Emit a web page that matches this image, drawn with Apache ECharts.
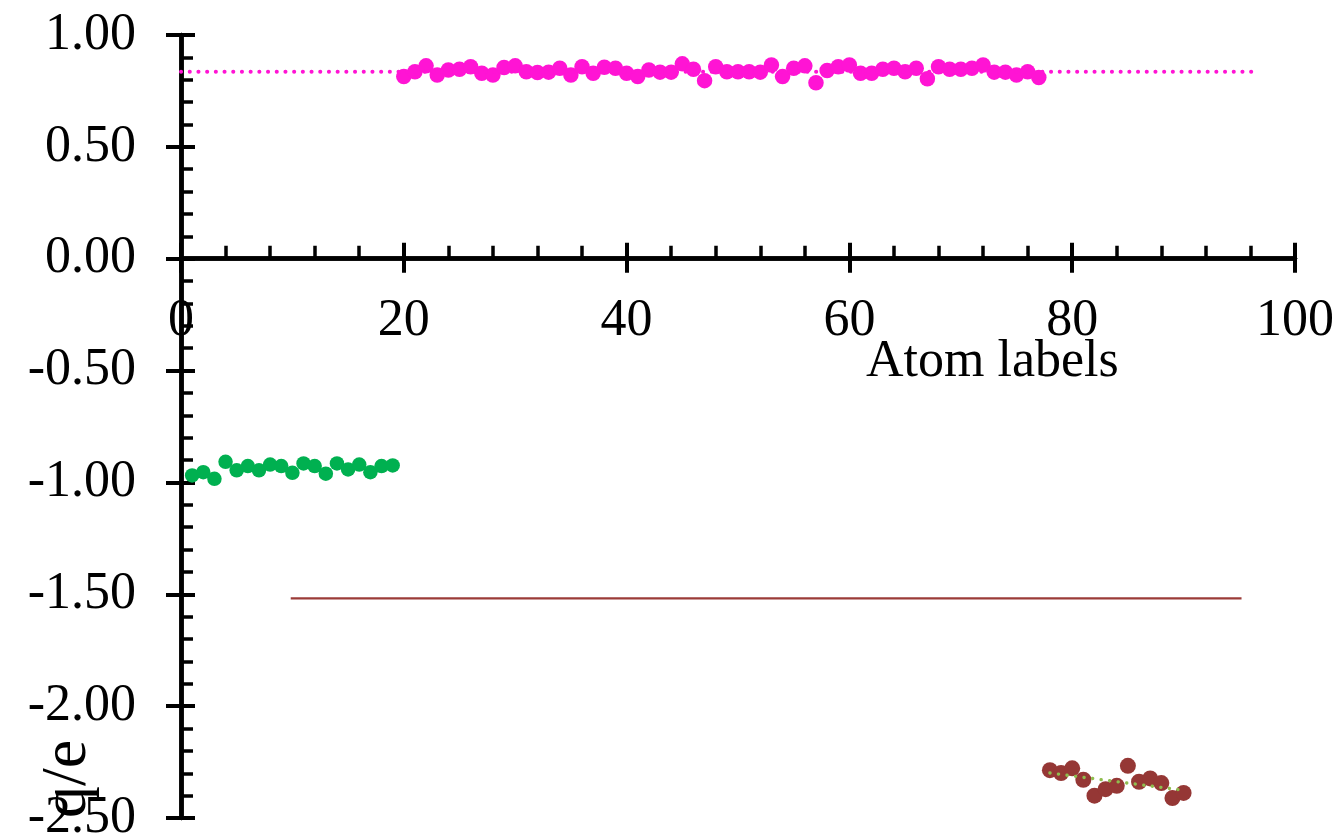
<!DOCTYPE html>
<html>
<head>
<meta charset="utf-8">
<title>Atom charges</title>
<script src="https://cdn.jsdelivr.net/npm/echarts@6/dist/echarts.min.js"></script>
<style>
  html, body { margin: 0; padding: 0; background: #fff; }
  #main { width: 1340px; height: 838px; }
</style>
</head>
<body>
<div id="main"></div>
<script>
// atom index (x) and charge q/e (y) for each group
const greenAtoms = [1, 2, 3, 4, 5, 6, 7, 8, 9, 10, 11, 12, 13, 14, 15, 16, 17, 18, 19];
const greenCharges = [-0.969, -0.954, -0.984, -0.908, -0.946, -0.927, -0.946, -0.920, -0.927, -0.957,
  -0.915, -0.927, -0.961, -0.915, -0.942, -0.920, -0.954, -0.927, -0.924];

const pinkAtoms = [20, 21, 22, 23, 24, 25, 26, 27, 28, 29, 30, 31, 32, 33, 34, 35, 36, 37, 38, 39,
  40, 41, 42, 43, 44, 45, 46, 47, 48, 49, 50, 51, 52, 53, 54, 55, 56, 57, 58, 59,
  60, 61, 62, 63, 64, 65, 66, 67, 68, 69, 70, 71, 72, 73, 74, 75, 76, 77];
const pinkCharges = [0.814, 0.836, 0.862, 0.821, 0.844, 0.847, 0.858, 0.829, 0.821, 0.855,
  0.862, 0.836, 0.832, 0.834, 0.851, 0.821, 0.858, 0.829, 0.856, 0.851,
  0.829, 0.814, 0.844, 0.834, 0.834, 0.871, 0.847, 0.796, 0.858, 0.836,
  0.836, 0.836, 0.834, 0.866, 0.814, 0.851, 0.862, 0.787, 0.841, 0.858,
  0.866, 0.829, 0.829, 0.847, 0.851, 0.836, 0.851, 0.804, 0.858, 0.847,
  0.847, 0.851, 0.866, 0.834, 0.834, 0.821, 0.836, 0.810];

const brownAtoms = [78, 79, 80, 81, 82, 83, 84, 85, 86, 87, 88, 89, 90];
const brownCharges = [-2.286, -2.299, -2.278, -2.329, -2.400, -2.371, -2.356, -2.267, -2.338, -2.323,
  -2.344, -2.411, -2.388];

// reference lines
const pinkLevelX = [0, 96.4];
const pinkLevelY = [0.836, 0.836];
const brownLevelX = [9.85, 95.2];
const brownLevelY = [-1.518, -1.518];
const fitX = [78, 89.5];
const fitY = [-2.299, -2.373];

// axes: min, max, interval
const xRange = [0, 100, 20];
const yRange = [-2.5, 1, 0.5];

const zip = (xs, ys) => xs.map((x, i) => [x, ys[i]]);

const font = '"Liberation Serif", "Times New Roman", serif';
const black = '#000';

const gridTop = 35;
const gridBottom = 20;
const gridHeight = 838 - gridTop - gridBottom;
// the x axis sits on y = 0, so pull it up from the grid's bottom edge
const xAxisOffset = -gridHeight * (0 - yRange[0]) / (yRange[1] - yRange[0]);

const chart = echarts.init(document.getElementById('main'));

const xBase = {
  type: 'value',
  min: xRange[0],
  max: xRange[1],
  interval: xRange[2],
  position: 'bottom',
  offset: xAxisOffset,
  splitLine: { show: false },
  axisLine: { show: true, onZero: false, lineStyle: { color: black, width: 4.5 } }
};
const yBase = {
  type: 'value',
  min: yRange[0],
  max: yRange[1],
  interval: yRange[2],
  position: 'left',
  splitLine: { show: false },
  axisLine: { show: true, onZero: false, lineStyle: { color: black, width: 4.5 } }
};

chart.setOption({
  animation: false,
  backgroundColor: '#fff',
  grid: { left: 181, right: 45, top: gridTop, bottom: gridBottom, containLabel: false, outerBoundsMode: 'none' },
  xAxis: [
    Object.assign({}, xBase, {
      axisTick: { show: true, inside: false, length: 14, lineStyle: { color: black, width: 4 } },
      axisLabel: { show: true, margin: 37, color: black, fontFamily: font, fontSize: 52 }
    }),
    Object.assign({}, xBase, {
      axisTick: { show: true, inside: true, length: 16, lineStyle: { color: black, width: 4 } },
      minorTick: { show: true, splitNumber: 5, length: 13, lineStyle: { color: black, width: 3.5 } },
      axisLabel: { show: false }
    })
  ],
  yAxis: [
    Object.assign({}, yBase, {
      axisTick: { show: true, inside: false, length: 15, lineStyle: { color: black, width: 4 } },
      axisLabel: {
        show: true, margin: 45, color: black, fontFamily: font, fontSize: 52,
        formatter: v => v.toFixed(2)
      }
    }),
    Object.assign({}, yBase, {
      axisTick: { show: true, inside: true, length: 14, lineStyle: { color: black, width: 4 } },
      minorTick: { show: true, splitNumber: 5, length: 12, lineStyle: { color: black, width: 3.5 } },
      axisLabel: { show: false }
    })
  ],
  graphic: [
    {
      type: 'text', left: 866, top: 336,
      style: { text: 'Atom labels', font: '52px ' + font, fill: black }
    },
    {
      type: 'text', x: 36, y: 818, rotation: Math.PI / 2,
      style: { text: 'q/e', font: '64px ' + font, fill: black }
    }
  ],
  series: [
    {
      type: 'line', data: zip(pinkLevelX, pinkLevelY), showSymbol: false, silent: true,
      lineStyle: { color: '#ff14d4', width: 4, type: [0.1, 8.6], cap: 'round' }
    },
    {
      type: 'scatter', data: zip(pinkAtoms, pinkCharges), symbolSize: 15.5,
      itemStyle: { color: '#ff14d4', opacity: 1 }
    },
    {
      type: 'scatter', data: zip(greenAtoms, greenCharges), symbolSize: 14.5,
      itemStyle: { color: '#00b050', opacity: 1 }
    },
    {
      type: 'line', data: zip(brownLevelX, brownLevelY), showSymbol: false, silent: true,
      lineStyle: { color: '#9b3b38', width: 2.2 }
    },
    {
      type: 'scatter', data: zip(brownAtoms, brownCharges), symbolSize: 16,
      itemStyle: { color: '#953735', opacity: 1 }
    },
    {
      type: 'line', data: zip(fitX, fitY), showSymbol: false, silent: true,
      lineStyle: { color: '#8fbd4f', width: 3.4, type: [0.1, 8.5], cap: 'round' }
    }
  ]
});
</script>
</body>
</html>
